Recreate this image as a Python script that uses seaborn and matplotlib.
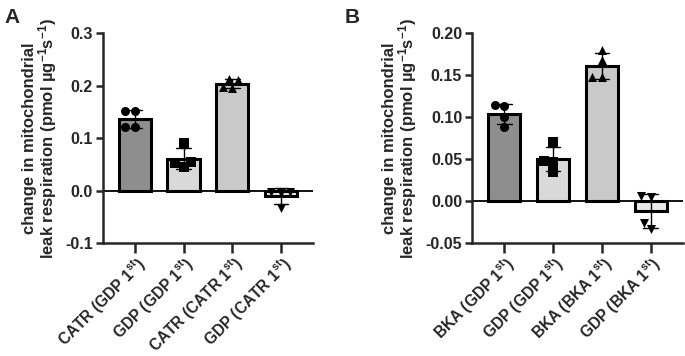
import numpy as np
import pandas as pd
import seaborn as sns
import matplotlib.pyplot as plt
from matplotlib.ticker import FormatStrFormatter

# values (one list per bar)
labels_a = ["CATR (GDP 1$^{st}$)", "GDP (GDP 1$^{st}$)",
            "CATR (CATR 1$^{st}$)", "GDP (CATR 1$^{st}$)"]
catr_gdp1 = [0.152, 0.151, 0.121, 0.122]
gdp_gdp1_a = [0.090, 0.055, 0.052, 0.045]
catr_catr1 = [0.212, 0.210, 0.198, 0.196]
gdp_catr1 = [-0.003, -0.002, -0.004, -0.033]

labels_b = ["BKA (GDP 1$^{st}$)", "GDP (GDP 1$^{st}$)",
            "BKA (BKA 1$^{st}$)", "GDP (BKA 1$^{st}$)"]
bka_gdp1 = [0.114, 0.113, 0.100, 0.088]
gdp_gdp1_b = [0.070, 0.048, 0.047, 0.035]
bka_bka1 = [0.180, 0.168, 0.148, 0.148]
gdp_bka1 = [0.006, 0.005, -0.026, -0.033]

bar_colors = ["#8e8e8e", "#d9d9d9", "#c9c9c9", "#e9e9e9"]
markers = ["o", "s", "^", "v"]
ylabel = "change in mitochondrial\nleak respiration (pmol µg$^{-1}$s$^{-1}$)"

sns.set_style("ticks")
plt.rcParams["font.family"] = ["Liberation Sans", "DejaVu Sans"]
plt.rcParams["font.weight"] = "bold"
plt.rcParams["mathtext.fontset"] = "custom"
plt.rcParams["mathtext.rm"] = "Liberation Sans:bold"
plt.rcParams["mathtext.it"] = "Liberation Sans:bold"
plt.rcParams["mathtext.bf"] = "Liberation Sans:bold"
plt.rcParams["axes.unicode_minus"] = False


def panel(ax, labels, groups, ylim, yticks, fmt):
    df = pd.DataFrame({
        "group": np.repeat(labels, [len(g) for g in groups]),
        "value": np.concatenate(groups),
    })
    sns.barplot(data=df, x="group", y="value", hue="group", order=labels,
                palette=bar_colors, width=0.66, errorbar="sd", capsize=0.3,
                err_kws={"color": "black", "linewidth": 1.0},
                edgecolor="black", linewidth=2.2, legend=False, ax=ax)
    for lab, mk in zip(labels, markers):
        sns.swarmplot(data=df[df["group"] == lab], x="group", y="value",
                      order=labels, color="black", marker=mk, size=6.5,
                      ax=ax, zorder=4)
    ax.axhline(0, color="black", lw=1.3, zorder=1)
    ax.set_xlim(-0.66, 3.66)
    ax.set_ylim(*ylim)
    ax.set_yticks(yticks)
    ax.yaxis.set_major_formatter(FormatStrFormatter(fmt))
    sns.despine(ax=ax)
    for s in ("left", "bottom"):
        ax.spines[s].set_linewidth(1.8)
    ax.tick_params(axis="y", width=1.8, length=5, labelsize=11.5, pad=2)
    ax.tick_params(axis="x", width=1.8, length=7, labelsize=11.2, pad=0)
    ax.set_xticks(range(4))
    ax.set_xticklabels(labels, rotation=45, ha="right",
                       rotation_mode="anchor", fontweight="bold")
    ax.set_xlabel("")
    ax.set_ylabel(ylabel, fontsize=12, fontweight="bold", labelpad=4.5,
                  linespacing=0.95)


fig = plt.figure(figsize=(6.85, 3.56), dpi=100)
ax_a = fig.add_axes([0.150, 0.317, 0.307, 0.590])
ax_b = fig.add_axes([0.689, 0.317, 0.308, 0.590])

panel(ax_a, labels_a, [catr_gdp1, gdp_gdp1_a, catr_catr1, gdp_catr1],
      (-0.1, 0.3), [-0.1, 0.0, 0.1, 0.2, 0.3], "%.1f")
panel(ax_b, labels_b, [bka_gdp1, gdp_gdp1_b, bka_bka1, gdp_bka1],
      (-0.05, 0.2), [-0.05, 0.0, 0.05, 0.10, 0.15, 0.20], "%.2f")

fig.text(0.006, 0.977, "A", fontsize=15, fontweight="bold", va="top")
fig.text(0.503, 0.977, "B", fontsize=15, fontweight="bold", va="top")

fig.savefig("out.png", dpi=100)
